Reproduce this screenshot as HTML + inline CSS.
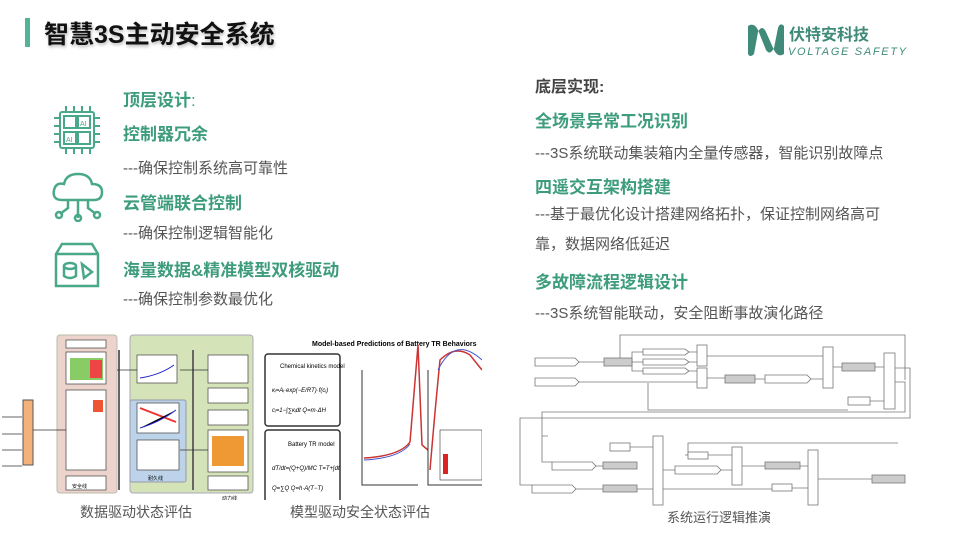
<!DOCTYPE html>
<html><head><meta charset="utf-8"><style>
body{margin:0;width:960px;height:540px;background:#fff;position:relative;overflow:hidden;font-family:"Liberation Sans","Noto Sans CJK SC",sans-serif}
.a{position:absolute;white-space:nowrap}
.g{color:#3d9c7c;font-weight:bold;font-size:17px}
.t{color:#555;font-size:15px}
</style></head><body>
<div class="a" style="left:25px;top:18px;width:5px;height:29px;background:#4fb596"></div>
<div class="a" style="left:44px;top:15px;font-size:25px;font-weight:bold;color:#111;text-shadow:1px 2px 3px #bbb">智慧3S主动安全系统</div>
<!-- logo -->
<svg class="a" style="left:744px;top:20px" width="165" height="40">
<path d="M4 6 Q10 2 14 10 L22 30 Q26 36 30 28 L34 8 Q36 2 40 6 L40 34 Q34 38 30 30 L22 12 Q18 4 14 12 L10 34 Q6 38 4 34Z" fill="#3f8a78"/>
<text x="45" y="20" font-size="16" font-weight="bold" fill="#3f8a78" font-family="Noto Sans CJK SC,sans-serif">伏特安科技</text>
<text x="44" y="35" font-size="11" fill="#3f8a78" font-family="Liberation Sans" font-style="italic" textLength="118">VOLTAGE SAFETY</text>
</svg>
<!-- left icons -->
<svg class="a" style="left:50px;top:104px" width="54" height="52" fill="none" stroke="#4aa88a" stroke-width="2">
<rect x="10" y="8" width="34" height="36" rx="2"/>
<path d="M4 14h6M4 22h6M4 30h6M4 38h6M44 14h6M44 22h6M44 30h6M44 38h6M16 2v6M24 2v6M32 2v6M40 2v6M16 44v6M24 44v6M32 44v6M40 44v6"/>
<rect x="14" y="12" width="12" height="12"/><rect x="28" y="12" width="12" height="12"/><rect x="14" y="28" width="12" height="12"/><rect x="28" y="28" width="12" height="12"/>
<text x="30" y="22" font-size="7" fill="#4aa88a" stroke="none">AI</text><text x="16" y="38" font-size="7" fill="#4aa88a" stroke="none">AI</text>
</svg>
<svg class="a" style="left:50px;top:170px" width="56" height="52" fill="none" stroke="#4aa88a" stroke-width="2.5">
<path d="M12 30 Q2 30 4 20 Q6 12 14 14 Q16 4 28 4 Q40 4 42 14 Q52 14 52 22 Q52 30 44 30Z"/>
<path d="M28 30v18M18 30v8l-8 6M38 30v8l8 6"/><circle cx="28" cy="48" r="3"/><circle cx="9" cy="45" r="3"/><circle cx="47" cy="45" r="3"/>
</svg>
<svg class="a" style="left:52px;top:240px" width="50" height="50" fill="none" stroke="#4aa88a" stroke-width="2.5">
<path d="M4 14 L10 4 H40 L46 14 V46 H4Z M4 14H46"/><ellipse cx="18" cy="26" rx="6" ry="3"/><path d="M12 26v10q6 4 12 0V26"/><path d="M30 24l10 8-8 6z"/>
</svg>
<div class="a g" style="left:123px;top:86px">顶层设计<span style="font-weight:normal">:</span></div>
<div class="a g" style="left:123px;top:120px">控制器冗余</div>
<div class="a t" style="left:123px;top:157px">---确保控制系统高可靠性</div>
<div class="a g" style="left:123px;top:189px">云管端联合控制</div>
<div class="a t" style="left:123px;top:222px">---确保控制逻辑智能化</div>
<div class="a g" style="left:123px;top:256px">海量数据&amp;精准模型双核驱动</div>
<div class="a t" style="left:123px;top:288px">---确保控制参数最优化</div>
<!-- right text -->
<div class="a" style="left:535px;top:73px;font-size:16px;font-weight:bold;color:#444">底层实现:</div>
<div class="a g" style="left:535px;top:107px">全场景异常工况识别</div>
<div class="a t" style="left:535px;top:142px">---3S系统联动集装箱内全量传感器，智能识别故障点</div>
<div class="a g" style="left:535px;top:173px">四遥交互架构搭建</div>
<div class="a t" style="left:535px;top:203px">---基于最优化设计搭建网络拓扑，保证控制网络高可</div>
<div class="a t" style="left:535px;top:233px">靠，数据网络低延迟</div>
<div class="a g" style="left:535px;top:268px">多故障流程逻辑设计</div>
<div class="a t" style="left:535px;top:302px">---3S系统智能联动，安全阻断事故演化路径</div>
<!-- left diagram -->
<svg class="a" style="left:0;top:330px" width="260" height="170" font-size="4">
<rect x="57" y="5" width="60" height="158" rx="3" fill="#ecd3cc" stroke="#bba"/>
<rect x="130" y="5" width="123" height="158" rx="3" fill="#d5e3b8" stroke="#aab"/>
<rect x="130" y="70" width="56" height="82" rx="2" fill="#bcd3ea" stroke="#99a"/>
<rect x="23" y="70" width="10" height="65" fill="#f4b27a" stroke="#555"/>
<g fill="#fff" stroke="#555" stroke-width=".8">
<rect x="66" y="10" width="40" height="8"/><rect x="66" y="22" width="40" height="32"/><rect x="66" y="60" width="40" height="80"/><rect x="66" y="146" width="40" height="14"/>
<rect x="137" y="25" width="40" height="28"/><rect x="137" y="73" width="42" height="30"/><rect x="137" y="110" width="42" height="30"/>
<rect x="208" y="25" width="40" height="28"/><rect x="208" y="58" width="40" height="15"/><rect x="208" y="80" width="40" height="15"/><rect x="208" y="100" width="40" height="42"/><rect x="208" y="146" width="40" height="14"/>
</g>
<rect x="70" y="28" width="33" height="22" fill="#8c6"/><rect x="90" y="30" width="12" height="18" fill="#e44"/>
<rect x="93" y="70" width="10" height="12" fill="#e53"/><rect x="212" y="106" width="32" height="30" fill="#e93"/>
<path d="M140 48 Q160 45 174 35" stroke="#22c" fill="none"/><path d="M140 78 L176 92" stroke="#e33" stroke-width="2"/><path d="M140 98 Q160 92 176 80" stroke="#22c"/>
<g stroke="#666" stroke-width="2"><path d="M119 20v140M193 20v140M160 70v0"/></g>
<g stroke="#333" stroke-width=".8"><path d="M2 87h20M2 104h20M2 120h20M2 136h20M33 100h33M117 40h20M180 40h28M180 120h28"/></g>
<text x="72" y="158" font-size="5">安全线</text><text x="148" y="150" font-size="5">耐久线</text><text x="222" y="170" font-size="5">动力线</text>
</svg>
<!-- model image -->
<svg class="a" style="left:260px;top:330px" width="222" height="170" font-family="Liberation Sans">
<text x="52" y="16" font-size="7" font-weight="bold">Model-based Predictions of Battery TR Behaviors</text>
<rect x="5" y="24" width="75" height="72" rx="3" fill="#fff" stroke="#333" stroke-width="1.5"/>
<rect x="5" y="100" width="75" height="72" rx="3" fill="#fff" stroke="#333" stroke-width="1.5"/>
<text x="20" y="38" font-size="6">Chemical kinetics model</text><text x="28" y="116" font-size="6">Battery TR model</text>
<text x="12" y="62" font-size="6" font-style="italic">κᵢ=Aᵢ·exp(−E/RT)·f(cᵢ)</text><text x="12" y="82" font-size="6" font-style="italic">cᵢ=1−∫∑κᵢdt   Q=m·ΔH</text>
<text x="12" y="140" font-size="6" font-style="italic">dT/dt=(Q+Q)/MC   T=T+∫dt</text><text x="12" y="160" font-size="6" font-style="italic">Q=∑Q   Q=h·A(T−T)</text>
<path d="M102 40V155H158" stroke="#333" fill="none"/>
<path d="M104 128 Q140 126 150 112 L158 15 L162 115 L168 120" stroke="#c33" fill="none" stroke-width="1.5"/>
<path d="M104 130 Q140 128 150 114" stroke="#45c" fill="none"/>
<path d="M168 40V155H222" stroke="#333" fill="none"/>
<path d="M170 140 Q175 80 180 30 Q195 15 210 25 L222 40" stroke="#c33" fill="none" stroke-width="1.5"/>
<path d="M178 40 Q195 5 222 30" stroke="#45c" fill="none"/>
<rect x="180" y="100" width="42" height="50" fill="#fff" stroke="#333" stroke-width=".6"/>
<rect x="183" y="124" width="5" height="20" fill="#d22"/>
</svg>
<!-- flowchart -->
<svg class="a" style="left:0;top:0" width="960" height="540" fill="none" stroke="#777" stroke-width=".8">
<path d="M620 362V335H905V380M578 362H604M578 382H697M632 362H643M632 362v-10h11M632 362v9h11M688 352H697M688 362H697M688 371H697M707 356H823M707 378H725M755 379H765M810 379H823M833 367H842M875 367H884M870 401H884M648 383v27h200M895 368H910v50H542v18H548M895 382H905v30H542V462H552M542 418H520v67h12M595 466H603M575 489H603M637 489H653M622 447H653M630 447h0M663 470H675M720 470H732M742 466H765M800 466H808M685 455H688v-12h210M708 455H732M792 488H808M818 479H872M637 489H772"/>
<g fill="#fff">
<path d="M535 358h40l4 4l-4 4h-40z"/><path d="M535 378h40l4 4l-4 4h-40z"/>
<path d="M643 349h42l4 3l-4 3h-42z"/><path d="M643 359h42l4 3l-4 3h-42z"/><path d="M643 368h42l4 3l-4 3h-42z"/>
<path d="M765 375h42l4 4l-4 4h-42z"/><path d="M552 462h40l4 4l-4 4h-40z"/><path d="M532 485h40l4 4l-4 4h-40z"/><path d="M675 466h42l4 4l-4 4h-42z"/>
<rect x="697" y="345" width="10" height="21"/><rect x="697" y="368" width="10" height="20"/><rect x="823" y="347" width="10" height="41"/><rect x="884" y="353" width="11" height="56"/>
<rect x="653" y="436" width="10" height="69"/><rect x="732" y="447" width="10" height="38"/><rect x="808" y="450" width="10" height="55"/>
<rect x="848" y="397" width="22" height="8"/><rect x="610" y="443" width="20" height="8"/><rect x="688" y="452" width="20" height="7"/><rect x="772" y="484" width="20" height="7"/>
</g>
<g fill="#ccc"><rect x="604" y="358" width="28" height="8"/><rect x="725" y="375" width="30" height="8"/><rect x="842" y="363" width="33" height="8"/><rect x="603" y="462" width="34" height="7"/><rect x="603" y="485" width="34" height="7"/><rect x="765" y="462" width="35" height="7"/><rect x="872" y="475" width="33" height="8"/></g>
</svg>
<div class="a t" style="left:80px;top:502px;font-size:14px">数据驱动状态评估</div>
<div class="a t" style="left:290px;top:502px;font-size:14px">模型驱动安全状态评估</div>
<div class="a t" style="left:667px;top:507px;font-size:13px">系统运行逻辑推演</div>
</body></html>
